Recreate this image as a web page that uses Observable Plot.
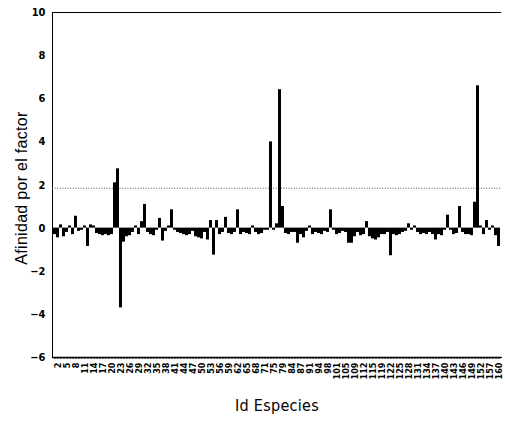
<!DOCTYPE html>
<html>
<head>
<meta charset="utf-8">
<script src="https://cdn.jsdelivr.net/npm/d3@7"></script>
<script src="https://cdn.jsdelivr.net/npm/@observablehq/plot@0.6"></script>
<style>
  html, body { margin: 0; padding: 0; background: #fff; }
</style>
</head>
<body>
<div id="chart"></div>
<script>
// Species identifiers, in the order they appear along the axis
const speciesIds = [
  1, 2, 3, 4, 5, 6, 7, 8, 9, 10, 11, 12, 13, 14, 15, 16, 17, 18, 19, 20,
  21, 22, 23, 24, 25, 26, 27, 28, 29, 30, 31, 32, 33, 34, 35, 36, 37, 38, 39, 40,
  41, 42, 43, 44, 45, 46, 47, 48, 49, 50, 51, 52, 53, 54, 55, 56, 57, 58, 59, 60,
  61, 62, 63, 64, 65, 66, 67, 68, 69, 70, 71, 72, 73, 75, 76, 77, 79, 80, 82, 84,
  85, 86, 87, 88, 89, 91, 92, 93, 94, 95, 96, 98, 99, 100, 101, 102, 103, 105, 106, 107,
  109, 110, 111, 112, 113, 114, 115, 116, 118, 119, 120, 121, 122, 123, 124, 125, 126, 127, 128, 129,
  130, 131, 132, 133, 134, 135, 136, 137, 138, 139, 140, 141, 142, 143, 144, 145, 146, 147, 148, 149,
  150, 151, 152, 153, 155, 157, 158, 159, 160
];

// Affinity of each species for the factor
const affinity = [
  -0.3, -0.45, 0.15, -0.4, -0.2, 0.1, -0.3, 0.55, -0.15, -0.1,
  0.1, -0.85, 0.15, 0.1, -0.25, -0.3, -0.35, -0.3, -0.35, -0.3,
  2.1, 2.75, -3.7, -0.65, -0.4, -0.35, -0.2, 0.1, -0.3, 0.3,
  1.1, -0.2, -0.3, -0.35, -0.1, 0.45, -0.6, -0.15, 0.1, 0.85,
  -0.1, -0.2, -0.25, -0.3, -0.35, -0.3, -0.15, -0.4, -0.45, -0.5,
  -0.2, -0.55, 0.35, -1.25, 0.35, -0.3, -0.2, 0.5, -0.25, -0.3,
  -0.2, 0.85, -0.3, -0.2, -0.25, -0.3, 0.1, -0.2, -0.3, -0.25,
  -0.1, -0.1, 4.0, -0.1, 0.2, 6.42, 1.0, -0.25, -0.3, -0.2,
  -0.2, -0.7, -0.3, -0.45, -0.15, 0.1, -0.3, -0.2, -0.25, -0.3,
  -0.15, -0.2, 0.85, -0.1, -0.3, -0.25, -0.15, -0.2, -0.7, -0.7,
  -0.4, -0.2, -0.35, -0.3, 0.3, -0.4, -0.5, -0.55, -0.45, -0.3,
  -0.3, -0.2, -1.28, -0.3, -0.35, -0.3, -0.2, -0.15, 0.2, -0.1,
  0.1, -0.2, -0.3, -0.25, -0.3, -0.2, -0.3, -0.55, -0.3, -0.35,
  -0.1, 0.6, -0.1, -0.3, -0.25, 1.0, -0.2, -0.3, -0.3, -0.35,
  1.2, 6.6, 0.1, -0.3, 0.35, -0.1, 0.1, -0.35, -0.85
];

// Identifiers printed under the axis
const xTickLabels = [
  2, 5, 8, 11, 14, 17, 20, 23, 26, 29, 32, 35, 38, 41, 44, 47, 50, 53, 56, 59,
  62, 65, 68, 71, 75, 79, 84, 87, 91, 94, 98, 101, 105, 109, 112, 115, 119, 122, 125, 128,
  131, 134, 137, 140, 143, 146, 149, 152, 157, 160
];

const yTicks = [-6, -4, -2, 0, 2, 4, 6, 8, 10];
const threshold = [1.85];
const yTitle = ["Afinidad por el factor"];
const xTitle = ["Id Especies"];

const rows = speciesIds.map((id, i) => ({id: String(id), value: affinity[i]}));
const labelled = new Set(xTickLabels.map(String));

const narrow = "'Liberation Sans Narrow', 'Arial Narrow', 'DejaVu Sans Condensed', 'Liberation Sans', sans-serif";

const chart = Plot.plot({
  width: 505,
  height: 422,
  marginLeft: 52,
  marginRight: 4,
  marginTop: 12,
  marginBottom: 65,
  style: {fontFamily: narrow, fontSize: "9px", fontWeight: "bold", fontStretch: "condensed", color: "#000", background: "#fff"},
  x: {
    type: "band",
    domain: speciesIds.map(String),
    paddingInner: 0.05,
    paddingOuter: 0.2,
    label: null,
    tickRotate: -90,
    tickSize: 2,
    tickPadding: 3,
    tickFormat: d => labelled.has(d) ? d : "",
    line: true
  },
  y: {
    domain: [-6, 10],
    ticks: yTicks,
    tickSize: 0,
    tickPadding: 7,
    label: null,
    line: true
  },
  marks: [
    Plot.ruleY(threshold, {stroke: "#555", strokeWidth: 1, strokeDasharray: "1,1.6"}),
    Plot.barY(rows, {x: "id", y: "value", fill: "#000"}),
    Plot.ruleY([10], {stroke: "#000", strokeWidth: 1.2}),
    Plot.ruleY([-6], {stroke: "#000", strokeWidth: 1.5}),
    Plot.text(yTitle, {
      frameAnchor: "left", dx: -31, dy: 3, rotate: -90, textAnchor: "middle",
      fontFamily: "'Liberation Sans', Arial, sans-serif", fontSize: 16, fontWeight: "normal",
      fill: "#000"
    }),
    Plot.text(xTitle, {
      frameAnchor: "bottom", dy: 53,
      fontFamily: narrow, fontSize: 16, fontWeight: "normal", fill: "#000"
    })
  ]
});

// Tick labels on the vertical axis are a little larger than the rotated ones
chart.querySelectorAll("[aria-label='y-axis tick label']").forEach(g => g.setAttribute("font-size", "11"));
chart.querySelectorAll("[aria-label='text'] text").forEach(t => t.setAttribute("letter-spacing", "0.3"));

document.getElementById("chart").append(chart);
</script>
</body>
</html>
